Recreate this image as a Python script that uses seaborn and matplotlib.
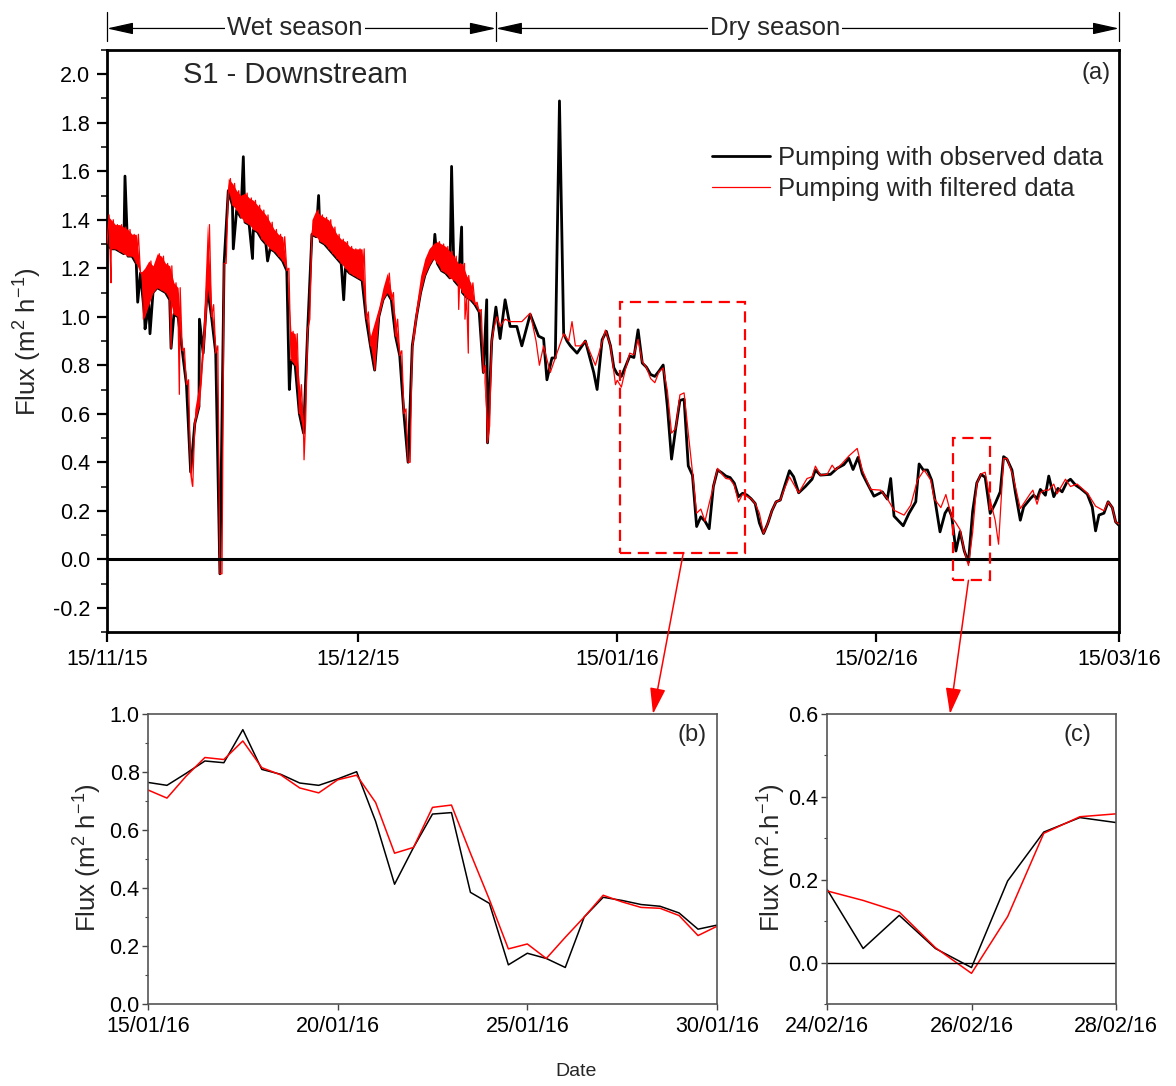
import numpy as np
import pandas as pd
import matplotlib.pyplot as plt
import matplotlib.dates as mdates
import matplotlib.transforms as mtransforms
from matplotlib.patches import Rectangle
from matplotlib.lines import Line2D
from matplotlib.ticker import MultipleLocator
import seaborn as sns

START = pd.Timestamp('2015-11-15')

# wet season, half-day readings (day 0 = 15/11/15): black lower edge and red upper edge
wet_obs = [1.30, 1.28, 1.28, 1.27, 1.26, 1.25, 1.25, 1.22, 1.18, 1.00,
           1.05, 1.10, 1.12, 1.11, 1.10, 1.07, 1.01, 1.00, 0.86, 0.72,
           0.36, 0.56, 0.63, 0.85, 1.12, 1.00, 0.85, -0.06, 1.22, 1.52,
           1.46, 1.44, 1.41, 1.39, 1.38, 1.36, 1.35, 1.32, 1.30, 1.28,
           1.27, 1.25, 1.23, 1.19, 0.82, 0.80, 0.60, 0.52, 0.95, 1.34,
           1.33, 1.31, 1.30, 1.28, 1.26, 1.24, 1.22, 1.20, 1.18, 1.17,
           1.16, 1.15, 0.99, 0.88, 0.78, 1.00, 1.07, 1.10, 1.07, 0.92,
           0.84, 0.60, 0.40, 0.88, 1.00, 1.10, 1.17, 1.21, 1.24, 1.22,
           1.19, 1.18, 1.16, 1.15, 1.13, 1.10, 1.08, 1.07, 1.05, 1.02,
           0.77, 0.48, 0.90]
wet_fil_top = [1.42, 1.40, 1.38, 1.38, 1.37, 1.36, 1.34, 1.34, 1.18, 1.20,
               1.23, 1.21, 1.26, 1.25, 1.22, 1.21, 1.14, 1.12, 0.87, 0.74,
               0.30, 0.62, 0.72, 0.95, 1.38, 1.05, 0.88, -0.06, 1.22, 1.57,
               1.55, 1.52, 1.50, 1.51, 1.49, 1.48, 1.46, 1.44, 1.42, 1.39,
               1.36, 1.34, 1.33, 1.20, 0.94, 0.93, 0.72, 0.57, 0.99, 1.40,
               1.44, 1.42, 1.41, 1.40, 1.37, 1.34, 1.32, 1.31, 1.29, 1.28,
               1.28, 1.28, 1.02, 0.92, 0.98, 1.04, 1.12, 1.18, 1.10, 0.99,
               0.86, 0.62, 0.40, 0.92, 1.05, 1.17, 1.24, 1.28, 1.30, 1.31,
               1.30, 1.29, 1.27, 1.25, 1.22, 1.22, 1.17, 1.14, 1.06, 1.03,
               0.80, 0.55, 0.95]

# isolated spikes in the wet season
spike_obs_day = [2.15, 3.67, 4.55, 5.14, 7.66, 11.05, 15.1, 16.3, 17.4, 19.2,
                 21.8, 25.3, 28.3, 39.2, 41.2, 42.4, 45.4]
spike_obs = [1.58, 1.06, 0.95, 0.93, 0.87, 0.99, 1.28, 1.66, 1.24, 1.23,
             0.70, 1.50, 1.07, 1.34, 1.62, 1.37, 1.07]
spike_fil_day = [0.48, 4.35, 7.66, 8.65, 23.56, 42.05, 42.8, 43.2]
spike_fil = [1.14, 0.99, 0.87, 0.68, 0.41, 1.03, 0.99, 0.85]

# dry season outside the two zoom windows
dry_obs_day = [46.5, 47.0, 47.6, 48.2, 49.0, 49.6, 50.6, 51.6, 52.2, 52.6,
               53.2, 53.6, 54.1, 54.6, 55.0, 55.4, 56.2, 57.2, 58.2, 58.6,
               59.2, 59.7, 60.2, 60.6,
               76.5, 77.0, 77.5, 78.0, 78.5, 79.0, 79.5, 80.0, 80.5, 81.0,
               81.6, 82.1, 82.7, 83.5, 84.3, 84.7, 85.3, 86.5, 87.3, 88.1,
               88.7, 89.2, 89.8, 90.3, 90.9, 91.7, 92.7, 93.3, 93.7, 94.1,
               95.2, 95.9, 96.7, 97.1, 97.6, 98.1, 98.6, 99.0, 99.6, 100.2,
               100.6,
               105.6, 106.2, 106.8, 107.2, 107.6, 108.2, 108.6, 109.2, 109.6,
               110.4, 110.8, 111.2, 111.6, 112.2, 112.6, 113.2, 113.7, 114.2,
               114.8, 115.2, 115.8, 116.4, 117.2, 117.8, 118.2, 118.6, 119.2,
               119.7, 120.2, 120.6, 121.0]
dry_obs = [1.04, 0.91, 1.07, 0.96, 0.96, 0.88, 1.01, 0.92, 0.91, 0.74,
           0.83, 0.83, 1.89, 0.93, 0.90, 0.88, 0.85, 0.90, 0.77, 0.70,
           0.905, 0.94, 0.88, 0.79,
           0.265, 0.25, 0.23, 0.15, 0.106, 0.147, 0.20, 0.237, 0.244, 0.30,
           0.365, 0.34, 0.274, 0.30, 0.33, 0.368, 0.347, 0.35, 0.375, 0.39,
           0.416, 0.37, 0.42, 0.354, 0.313, 0.26, 0.278, 0.248, 0.333, 0.178,
           0.138, 0.19, 0.237, 0.393, 0.368, 0.368, 0.326, 0.244, 0.113, 0.19,
           0.212,
           0.189, 0.23, 0.278, 0.423, 0.413, 0.368, 0.278, 0.161, 0.216,
           0.25, 0.264, 0.25, 0.288, 0.264, 0.343, 0.258, 0.292, 0.278,
           0.32, 0.33, 0.306, 0.292, 0.269, 0.216, 0.117, 0.182, 0.19,
           0.237, 0.213, 0.154, 0.14]
dry_fil_day = [46.6, 47.0, 47.6, 48.2, 49.0, 49.6, 50.6, 51.3, 51.7, 52.2,
               53.0, 53.6, 54.6, 55.2, 55.6, 56.0, 56.6, 57.2, 58.4, 59.6,
               60.2, 60.8,
               76.5, 77.0, 77.5, 78.0, 78.5, 79.0, 79.5, 80.0, 80.5, 81.0,
               81.6, 82.7, 83.7, 84.3, 84.7, 85.3, 86.1, 86.7, 87.1, 87.9,
               88.7, 89.7, 90.3, 91.3, 92.5, 93.3, 94.1, 95.3, 96.1, 96.9,
               97.7, 98.5, 98.9, 99.7, 100.3,
               105.6, 106.2, 106.6, 107.2, 107.6, 108.3, 109.2, 110.4, 110.7,
               111.2, 111.6, 112.1, 112.6, 113.2, 113.6, 114.6, 115.2, 116.0,
               117.3, 118.2, 119.2, 119.7, 120.2, 120.6, 121.0]
dry_fil = [1.00, 0.96, 0.99, 0.98, 0.98, 0.98, 1.015, 0.90, 0.80, 0.88,
           0.77, 0.83, 0.93, 0.90, 0.98, 0.88, 0.88, 0.90, 0.80, 0.945,
           0.88, 0.72,
           0.26, 0.25, 0.23, 0.19, 0.106, 0.147, 0.20, 0.237, 0.244, 0.29,
           0.34, 0.274, 0.333, 0.34, 0.384, 0.347, 0.35, 0.388, 0.368, 0.395,
           0.426, 0.457, 0.368, 0.288, 0.285, 0.25, 0.202, 0.182, 0.223, 0.326,
           0.368, 0.326, 0.25, 0.213, 0.267,
           0.244, 0.16, 0.062, 0.416, 0.416, 0.347, 0.209, 0.271, 0.285,
           0.227, 0.274, 0.285, 0.285, 0.31, 0.27, 0.33, 0.30, 0.31,
           0.269, 0.219, 0.20, 0.237, 0.213, 0.154, 0.145]

# zoom (b): 15/01/16 - 30/01/16, every 12 h
zb_obs = [0.764, 0.754, 0.795, 0.838, 0.832, 0.946, 0.809, 0.792, 0.762, 0.754,
          0.776, 0.801, 0.63, 0.413, 0.54, 0.655, 0.66, 0.385, 0.347, 0.135,
          0.175, 0.157, 0.126, 0.30, 0.368, 0.357, 0.343, 0.337, 0.314, 0.258,
          0.272]
zb_fil = [0.738, 0.71, 0.785, 0.85, 0.843, 0.907, 0.815, 0.79, 0.745, 0.728,
          0.773, 0.789, 0.695, 0.52, 0.54, 0.678, 0.686, 0.52, 0.36, 0.19,
          0.207, 0.157, 0.23, 0.30, 0.375, 0.352, 0.333, 0.33, 0.305, 0.236,
          0.268]
# zoom (c): 24/02/16 - 28/02/16, every 12 h
zc_obs = [0.177, 0.034, 0.114, 0.034, -0.012, 0.197, 0.315, 0.35, 0.338]
zc_fil = [0.173, 0.15, 0.122, 0.036, -0.026, 0.111, 0.312, 0.352, 0.359]

ZB_START = 61.0   # 15/01/16
ZC_START = 101.0  # 24/02/16


def frame(days, values):
    df = pd.DataFrame({'day': np.asarray(days, float),
                       'flux': np.asarray(values, float)})
    df = df.sort_values('day', kind='stable').reset_index(drop=True)
    df['date'] = START + pd.to_timedelta(df['day'], unit='D')
    return df


half = np.arange(len(wet_obs)) * 0.5
zb_day = ZB_START + np.arange(len(zb_obs)) * 0.5
zc_day = ZC_START + np.arange(len(zc_obs)) * 0.5

obs = frame(np.concatenate([half, spike_obs_day, dry_obs_day, zb_day, zc_day]),
            np.concatenate([wet_obs, spike_obs, dry_obs, zb_obs, zc_obs]))
# red fuzz: alternate lower edge and upper edge readings
zig_day = np.column_stack([half, half + 0.25]).ravel()
zig_val = np.column_stack([wet_obs, wet_fil_top]).ravel()
fil = frame(np.concatenate([zig_day, spike_fil_day, dry_fil_day, zb_day, zc_day]),
            np.concatenate([zig_val, spike_fil, dry_fil, zb_fil, zc_fil]))
band = pd.DataFrame({'date': START + pd.to_timedelta(half, unit='D'),
                     'low': wet_obs, 'high': wet_fil_top})
ins_b = pd.DataFrame({'date': START + pd.to_timedelta(zb_day, unit='D'),
                      'obs': zb_obs, 'fil': zb_fil})
ins_c = pd.DataFrame({'date': START + pd.to_timedelta(zc_day, unit='D'),
                      'obs': zc_obs, 'fil': zc_fil})

sns.set_theme(style="ticks")
plt.rcParams['font.family'] = ['Liberation Sans', 'DejaVu Sans']
plt.rcParams['mathtext.fontset'] = 'custom'
plt.rcParams['mathtext.rm'] = 'Liberation Sans'
plt.rcParams['mathtext.default'] = 'regular'

W, H = 1176, 1086
fig = plt.figure(figsize=(W / 100, H / 100), dpi=100)


def px_axes(l, t, r, b):
    return fig.add_axes([l / W, 1 - b / H, (r - l) / W, (b - t) / H])


ax = px_axes(107, 50, 1119, 632)
axb = px_axes(148, 714, 717, 1004)
axc = px_axes(827, 714, 1116, 1004)

TS = 15.5
BIG = 18.5

# ---- main panel ----
sns.lineplot(data=obs, x='date', y='flux', color='black', lw=2.0,
             estimator=None, sort=False, ax=ax, zorder=2)
# dense hourly noise of the filtered series in the wet season
ax.fill_between(band['date'], band['low'], band['high'], color='red',
                lw=0, zorder=2.5)
sns.lineplot(data=fil, x='date', y='flux', color='red', lw=0.9,
             estimator=None, sort=False, ax=ax, zorder=3)
ax.axhline(0, color='black', lw=2.2, zorder=4)

d0 = pd.Timestamp('2015-11-15')
d1 = pd.Timestamp('2016-03-15')
ax.set_xlim(d0, d1)
ax.set_ylim(-0.3, 2.1)
ax.set_xticks(pd.to_datetime(['2015-11-15', '2015-12-15', '2016-01-15',
                              '2016-02-15', '2016-03-15']))
ax.xaxis.set_major_formatter(mdates.DateFormatter('%d/%m/%y'))
ax.yaxis.set_major_locator(MultipleLocator(0.2))
ax.yaxis.set_minor_locator(MultipleLocator(0.1))
ax.yaxis.set_major_formatter(plt.FuncFormatter(lambda v, p: f'{v:.1f}'))
ax.tick_params(which='major', direction='out', length=7, width=1.6,
               labelsize=TS, pad=5, color='black', labelcolor='black')
ax.tick_params(which='minor', direction='out', length=4, width=1.3)
ax.tick_params(axis='x', pad=5)
for s in ax.spines.values():
    s.set_linewidth(2.0)
    s.set_color('black')
ax.set_xlabel('')
ax.set_ylabel('')

ax.text(0.075, 0.957, 'S1 - Downstream', transform=ax.transAxes,
        fontsize=21, ha='left', va='center')
ax.text(0.992, 0.96, '(a)', transform=ax.transAxes, fontsize=17,
        ha='right', va='center')

handles = [Line2D([], [], color='black', lw=2.0),
           Line2D([], [], color='red', lw=0.9)]
ax.legend(handles, ['Pumping with observed data', 'Pumping with filtered data'],
          loc='upper left', bbox_to_anchor=((712 - 107) / 1012, (632 - 146) / 582),
          frameon=False, fontsize=BIG, handlelength=2.25, handletextpad=0.3,
          labelspacing=0.28, borderpad=0, borderaxespad=0)

# zoom boxes
def day_num(d):
    return mdates.date2num(START + pd.Timedelta(days=d))

for (a, b_, lo, hi) in [(61.36, 76.3, 0.025, 1.062), (101.2, 105.6, -0.087, 0.50)]:
    ax.add_patch(Rectangle((day_num(a), lo), day_num(b_) - day_num(a), hi - lo,
                           fill=False, edgecolor='red', lw=1.6,
                           linestyle=(0, (5, 3)), zorder=5))

# season bars above the panel
trans = mtransforms.blended_transform_factory(ax.transData, ax.transAxes)
split = 46.5
for d in [0, split, 121]:
    ax.plot([day_num(d)] * 2, [1.016, 1.065], transform=trans, color='black',
            lw=0.9, clip_on=False)
arrow_kw = dict(arrowstyle='<|-|>,head_length=0.9,head_width=0.2',
                color='black', lw=0.9, shrinkA=0, shrinkB=0, mutation_scale=18)
for a, b_ in [(0, split), (split, 121)]:
    ax.annotate('', xy=(day_num(b_), 1.037), xytext=(day_num(a), 1.037),
                xycoords=trans, textcoords=trans, arrowprops=arrow_kw,
                annotation_clip=False)
for d, lab in [(22.5, 'Wet season'), (79.9, 'Dry season')]:
    ax.text(day_num(d), 1.037, lab, transform=trans, ha='center', va='center',
            fontsize=BIG, zorder=6, clip_on=False,
            bbox=dict(facecolor='white', edgecolor='none', pad=1.5))

# ---- inset panels ----
for a_, df, lims, yl, ticks in [
        (axb, ins_b, ('2016-01-15', '2016-01-30'), (0, 1.0),
         ['2016-01-15', '2016-01-20', '2016-01-25', '2016-01-30']),
        (axc, ins_c, ('2016-02-24', '2016-02-28'), (-0.1, 0.6),
         ['2016-02-24', '2016-02-26', '2016-02-28'])]:
    sns.lineplot(data=df, x='date', y='obs', color='black', lw=1.1,
                 estimator=None, sort=False, ax=a_)
    sns.lineplot(data=df, x='date', y='fil', color='red', lw=1.1,
                 estimator=None, sort=False, ax=a_)
    a_.set_xlim(pd.Timestamp(lims[0]), pd.Timestamp(lims[1]))
    a_.set_ylim(*yl)
    a_.set_xticks(pd.to_datetime(ticks))
    a_.xaxis.set_major_formatter(mdates.DateFormatter('%d/%m/%y'))
    a_.yaxis.set_major_locator(MultipleLocator(0.2))
    a_.yaxis.set_minor_locator(MultipleLocator(0.1))
    a_.yaxis.set_major_formatter(plt.FuncFormatter(lambda v, p: f'{v:.1f}'))
    a_.tick_params(which='major', direction='out', length=4, width=1.0,
                   labelsize=TS, pad=2, color='#444444', labelcolor='black')
    a_.tick_params(axis='x', pad=5)
    a_.tick_params(which='minor', direction='out', length=2.5, width=0.8,
                   color='#444444')
    for s in a_.spines.values():
        s.set_linewidth(1.2)
        s.set_color('#555555')
    a_.set_xlabel('')
    a_.set_ylabel('')

axc.axhline(0, color='black', lw=1.0)
axb.text(0.956, 0.928, '(b)', transform=axb.transAxes, fontsize=17,
         ha='center', va='center')
axc.text(0.865, 0.928, '(c)', transform=axc.transAxes, fontsize=17,
         ha='center', va='center')

# arrows from the boxes to the insets
arr = dict(arrowstyle='-|>,head_length=1.0,head_width=0.3', color='red',
           lw=1.1, shrinkA=0, shrinkB=0, mutation_scale=16)
axb.annotate('', xy=((653 - 148) / 569, 1.0), xycoords='axes fraction',
             xytext=(day_num(68.9), 0.025), textcoords=ax.transData,
             arrowprops=arr, annotation_clip=False, zorder=10)
axc.annotate('', xy=((950 - 827) / 289, 1.0), xycoords='axes fraction',
             xytext=(day_num(103.0), -0.087), textcoords=ax.transData,
             arrowprops=arr, annotation_clip=False, zorder=10)

# axis titles
fig.text(28 / W, 1 - 342 / H, r'Flux (m$^{2}$ h$^{-1}$)', rotation=90,
         ha='center', va='center', fontsize=BIG)
fig.text(88 / W, 1 - 858 / H, r'Flux (m$^{2}$ h$^{-1}$)', rotation=90,
         ha='center', va='center', fontsize=BIG)
fig.text(772 / W, 1 - 858 / H, r'Flux (m$^{2}$.h$^{-1}$)', rotation=90,
         ha='center', va='center', fontsize=BIG)
fig.text(576 / W, 1 - 1071 / H, 'Date', ha='center', va='center', fontsize=14)

fig.savefig('out.png', dpi=100)
